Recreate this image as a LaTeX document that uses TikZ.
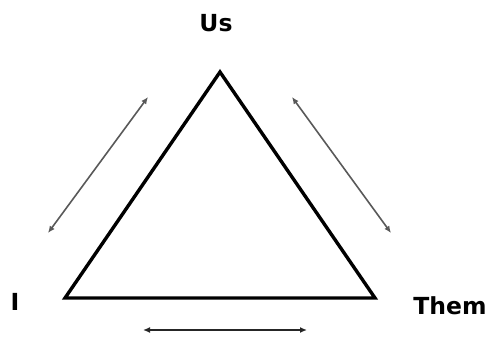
\documentclass[tikz,border=0pt]{standalone}
\usepackage{fontspec}
\setmainfont{DejaVu Sans}
\usetikzlibrary{arrows.meta}
\begin{document}
\begin{tikzpicture}[x=1pt, y=-1pt,
      label/.style={font=\bfseries\fontsize{23.5}{26}\selectfont, inner sep=0pt},
      side/.style={line width=3.4pt, line join=miter},
      arrow/.style={{Latex[length=7pt,width=6pt]}-{Latex[length=7pt,width=6pt]}, line width=1.6pt, draw=black!65},
    ]
    \useasboundingbox (0,0) rectangle (490,337);
    % corners of the triangle
    \coordinate (us) at (220,72);
    \coordinate (me) at (65,298);
    \coordinate (them) at (375,298);
    \draw[side] (us) -- (me) -- (them) -- cycle;
    % labels
    \node[label] (uslbl) at (216,23) {Us};
    \node[label] (ilbl) at (15,302) {I};
    \node[label] (themlbl) at (450,306) {Them};
    % relations
    \coordinate (l1) at (48,233);
    \coordinate (l2) at (148,97);
    \coordinate (r1) at (292,97);
    \coordinate (r2) at (391,233);
    \coordinate (b1) at (143,330);
    \coordinate (b2) at (307,330);
    \draw[arrow] (l1) -- (l2);
    \draw[arrow] (r1) -- (r2);
    \draw[arrow, draw=black!85] (b1) -- (b2);
\end{tikzpicture}
\end{document}
